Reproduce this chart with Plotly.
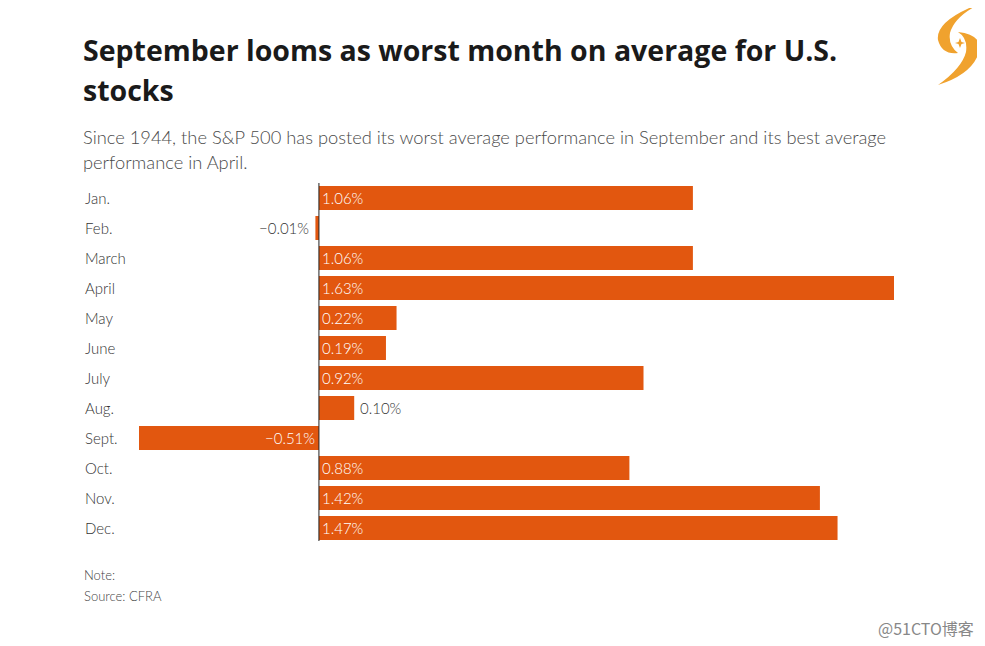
import plotly.graph_objects as go

months = ["Jan.", "Feb.", "March", "April", "May", "June", "July", "Aug.", "Sept.", "Oct.", "Nov.", "Dec."]
values = [1.06, -0.01, 1.06, 1.63, 0.22, 0.19, 0.92, 0.10, -0.51, 0.88, 1.42, 1.47]
labels = ["1.06%", "−0.01%", "1.06%", "1.63%", "0.22%", "0.19%", "0.92%", "0.10%", "−0.51%", "0.88%", "1.42%", "1.47%"]

OFF = 8  # default body margin of the page
W, H = 985 - OFF, 646 - OFF
SX0, SX1, SY0, SY1 = 139, 894, 183, 543
L, R, T, B = SX0 - OFF, W - (SX1 - OFF), SY0 - OFF, H - (SY1 - OFF)
PW, PH = W - L - R, H - T - B

BAR = "#E2570F"
FONT = "Lato"

def px(x):
    return (x - OFF - L) / PW

def py(y):
    return (H - B - (y - OFF)) / PH

fig = go.Figure()
fig.add_trace(go.Bar(
    x=values, y=months, orientation="h",
    marker=dict(color=BAR, line=dict(width=0)),
    width=0.8, hoverinfo="skip",
))

LF = dict(family=FONT, size=15, color="#333", weight=300)
WF = dict(family=FONT, size=15, color="white", weight=300)

annotations = []
for m, v, lab in zip(months, values, labels):
    annotations.append(dict(x=px(83), xref="paper", y=m, yref="y", text=m,
                            xanchor="left", showarrow=False, font=LF))
    if v >= 0.15:
        annotations.append(dict(x=0, y=m, text=lab, xanchor="left", xshift=1, showarrow=False, font=WF))
    elif v > 0:
        annotations.append(dict(x=v, y=m, text=lab, xanchor="left", xshift=4, showarrow=False, font=LF))
    elif v > -0.1:
        annotations.append(dict(x=v, y=m, text=lab, xanchor="right", xshift=-4, showarrow=False, font=LF))
    else:
        annotations.append(dict(x=0, y=m, text=lab, xanchor="right", xshift=-2, showarrow=False, font=WF))

TF = dict(family="Open Sans", size=28.5, color="#1a1a1a", weight=700)
SF = dict(family=FONT, size=18.3, color="#4a4a4a", weight=300)
NF = dict(family=FONT, size=13, color="#444", weight=300)

def txt(x, y, s, f, anchor="middle", xa="left"):
    return dict(x=px(x), xref="paper", y=py(y), yref="paper", yanchor=anchor, xanchor=xa,
                align="left", showarrow=False, text=s, font=f)

annotations += [
    txt(81, 50, "September looms as worst month on average for U.S.", TF),
    txt(81, 90, "stocks", TF),
    txt(81, 137, "Since 1944, the S&P 500 has posted its worst average performance in September and its best average", SF),
    txt(81, 162, "performance in April.", SF),
    txt(82, 575, "Note:", NF),
    txt(82, 596, "Source: CFRA", NF),
    txt(976, 628, "@51CTO博客", dict(family="Noto Sans CJK SC", size=16, color="#888"), xa="right"),
]

def P(x, y):
    return f"{px(x):.5f},{py(y):.5f}"

logo_top = f"M {P(984,2)} Q {P(935,20)} {P(938,40)} Q {P(942,55)} {P(958,53)} Q {P(948,45)} {P(950,33)} Q {P(955,15)} {P(984,2)} Z"
logo_bot = f"M {P(958,32)} Q {P(985,35)} {P(978,55)} Q {P(970,75)} {P(938,85)} Q {P(962,68)} {P(966,52)} Q {P(968,38)} {P(958,32)} Z"
star = f"M {P(960,38)} L {P(961.5,42)} L {P(965,43)} L {P(961.5,44)} L {P(960,48)} L {P(958.5,44)} L {P(955,43)} L {P(958.5,42)} Z"

shapes = [
    dict(type="line", xref="x", yref="paper", x0=0, x1=0, y0=py(183), y1=py(541),
         line=dict(color="#222", width=1)),
    dict(type="path", xref="paper", yref="paper", path=logo_top, fillcolor="#F0A22E", line=dict(width=0)),
    dict(type="path", xref="paper", yref="paper", path=logo_bot, fillcolor="#F0A22E", line=dict(width=0)),
    dict(type="path", xref="paper", yref="paper", path=star, fillcolor="#F0A22E", line=dict(width=0)),
]

fig.update_layout(
    width=W, height=H,
    margin=dict(l=L, r=R, t=T, b=B, autoexpand=False),
    paper_bgcolor="white", plot_bgcolor="white",
    showlegend=False,
    xaxis=dict(range=[-0.51, 1.63], visible=False, fixedrange=True),
    yaxis=dict(categoryorder="array", categoryarray=months, autorange="reversed",
               visible=False, fixedrange=True),
    bargap=0.2,
    annotations=annotations,
    shapes=shapes,
)

fig.write_html("out.html")
